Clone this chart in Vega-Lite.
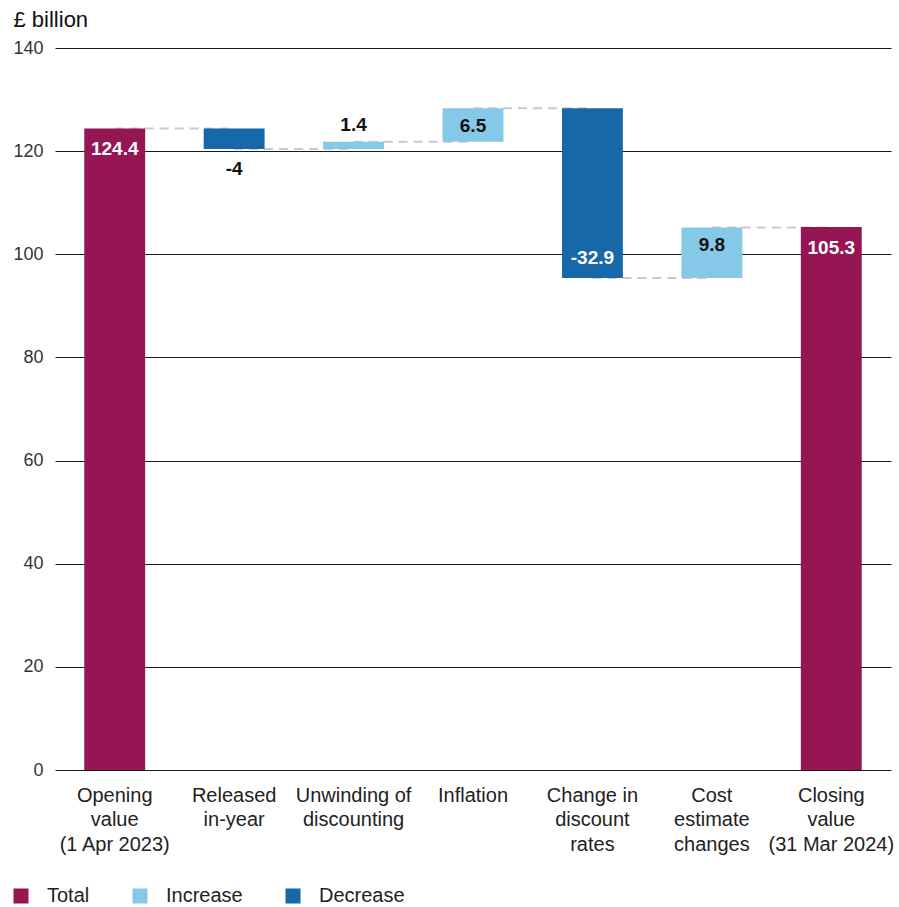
{
  "$schema": "https://vega.github.io/schema/vega-lite/v6.json",
  "width": 836,
  "height": 722,
  "autosize": {"type": "none"},
  "padding": {"left": 55, "top": 48, "right": 8, "bottom": 137},
  "background": "white",
  "config": {"view": {"stroke": null}, "font": "Liberation Sans"},
  "data": {
    "values": [
      {"category": "Opening\nvalue\n(1 Apr 2023)", "type": "Total", "start": 0, "end": 124.4, "amount": 124.4, "next": "Released\nin-year"},
      {"category": "Released\nin-year", "type": "Decrease", "start": 124.4, "end": 120.4, "amount": -4, "next": "Unwinding of\ndiscounting"},
      {"category": "Unwinding of\ndiscounting", "type": "Increase", "start": 120.4, "end": 121.8, "amount": 1.4, "next": "Inflation"},
      {"category": "Inflation", "type": "Increase", "start": 121.8, "end": 128.3, "amount": 6.5, "next": "Change in\ndiscount\nrates"},
      {"category": "Change in\ndiscount\nrates", "type": "Decrease", "start": 128.3, "end": 95.4, "amount": -32.9, "next": "Cost\nestimate\nchanges"},
      {"category": "Cost\nestimate\nchanges", "type": "Increase", "start": 95.4, "end": 105.2, "amount": 9.8, "next": "Closing\nvalue\n(31 Mar 2024)"},
      {"category": "Closing\nvalue\n(31 Mar 2024)", "type": "Total", "start": 0, "end": 105.3, "amount": 105.3, "next": null}
    ]
  },
  "layer": [
    {
      "transform": [{"filter": "datum.next != null"}],
      "mark": {"type": "rule", "color": "#C9C9D6", "strokeWidth": 2, "strokeDash": [9, 6]},
      "encoding": {
        "x": {"field": "category", "type": "nominal", "bandPosition": 0.5},
        "x2": {"field": "next"},
        "y": {"field": "end", "type": "quantitative"}
      }
    },
    {
      "mark": {"type": "bar"},
      "encoding": {
        "x": {
          "field": "category",
          "type": "nominal",
          "title": null,
          "scale": {
            "domain": ["Opening\nvalue\n(1 Apr 2023)", "Released\nin-year", "Unwinding of\ndiscounting", "Inflation", "Change in\ndiscount\nrates", "Cost\nestimate\nchanges", "Closing\nvalue\n(31 Mar 2024)"],
            "paddingInner": 0.49,
            "paddingOuter": 0.245
          },
          "axis": {
            "labelExpr": "split(datum.value, '\\n')",
            "labelAngle": 0,
            "labelAlign": "center",
            "labelFontSize": 20,
            "labelColor": "#222",
            "labelLineHeight": 24.5,
            "labelPadding": 15,
            "ticks": false,
            "tickSize": 0,
            "domain": false,
            "labelBaseline": "top"
          }
        },
        "y": {
          "field": "start",
          "type": "quantitative",
          "scale": {"domain": [0, 140], "nice": false},
          "axis": {
            "values": [0, 20, 40, 60, 80, 100, 120, 140],
            "grid": true,
            "gridColor": "#1a1a1a",
            "gridWidth": 1,
            "domain": false,
            "ticks": false,
            "tickSize": 0,
            "labelPadding": 12,
            "labelFontSize": 18,
            "labelColor": "#333",
            "title": "£ billion",
            "titleAngle": 0,
            "titleAlign": "left",
            "titleBaseline": "middle",
            "titleX": -42,
            "titleY": -29,
            "titleFontSize": 22,
            "titleFontWeight": "normal",
            "titleColor": "#111"
          }
        },
        "y2": {"field": "end"},
        "color": {
          "field": "type",
          "type": "nominal",
          "scale": {"domain": ["Total", "Increase", "Decrease"], "range": ["#961654", "#85C8E8", "#1668A8"]},
          "legend": {
            "title": null,
            "orient": "none",
            "direction": "horizontal",
            "legendX": -44,
            "legendY": 838,
            "padding": 0,
            "symbolType": "square",
            "symbolSize": 225,
            "symbolStrokeWidth": 0,
            "labelFontSize": 20,
            "labelColor": "#222",
            "labelOffset": 16,
            "columnPadding": 40
          }
        }
      }
    },
    {
      "transform": [{"filter": "datum.type === 'Total'"}],
      "mark": {"type": "text", "fontSize": 19, "fontWeight": "bold", "baseline": "middle", "dy": 21, "color": "white"},
      "encoding": {
        "x": {"field": "category", "type": "nominal"},
        "y": {"field": "end", "type": "quantitative"},
        "text": {"field": "amount", "type": "nominal"}
      }
    },
    {
      "transform": [{"filter": "datum.type === 'Increase' && abs(datum.end - datum.start) >= 5"}],
      "mark": {"type": "text", "fontSize": 19, "fontWeight": "bold", "baseline": "middle", "dy": 18, "color": "#111"},
      "encoding": {
        "x": {"field": "category", "type": "nominal"},
        "y": {"field": "end", "type": "quantitative"},
        "text": {"field": "amount", "type": "nominal"}
      }
    },
    {
      "transform": [{"filter": "datum.type === 'Increase' && abs(datum.end - datum.start) < 5"}],
      "mark": {"type": "text", "fontSize": 19, "fontWeight": "bold", "baseline": "middle", "dy": -17, "color": "#111"},
      "encoding": {
        "x": {"field": "category", "type": "nominal"},
        "y": {"field": "end", "type": "quantitative"},
        "text": {"field": "amount", "type": "nominal"}
      }
    },
    {
      "transform": [{"filter": "datum.type === 'Decrease' && abs(datum.end - datum.start) >= 5"}],
      "mark": {"type": "text", "fontSize": 19, "fontWeight": "bold", "baseline": "middle", "dy": -20, "color": "white"},
      "encoding": {
        "x": {"field": "category", "type": "nominal"},
        "y": {"field": "end", "type": "quantitative"},
        "text": {"field": "amount", "type": "nominal"}
      }
    },
    {
      "transform": [{"filter": "datum.type === 'Decrease' && abs(datum.end - datum.start) < 5"}],
      "mark": {"type": "text", "fontSize": 19, "fontWeight": "bold", "baseline": "middle", "dy": 20, "color": "#111"},
      "encoding": {
        "x": {"field": "category", "type": "nominal"},
        "y": {"field": "end", "type": "quantitative"},
        "text": {"field": "amount", "type": "nominal"}
      }
    }
  ]
}
